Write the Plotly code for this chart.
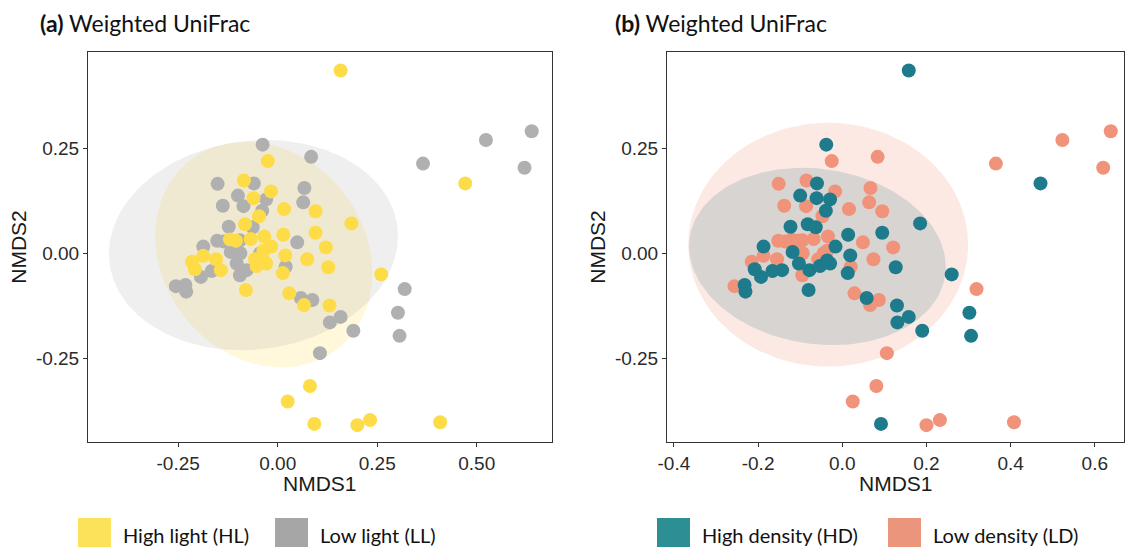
import numpy as np
import plotly.graph_objects as go

# ---------------- data ----------------
nmds1 = [0.158, 0.638, 0.523, 0.620, 0.365, 0.471, -0.038, -0.025, 0.084, -0.151,
         -0.085, -0.060, -0.017, 0.067, 0.064, -0.100, -0.061, -0.029, -0.086, -0.138,
         0.016, 0.095, -0.039, -0.047, -0.082, -0.123, -0.063, 0.095, 0.014, 0.185,
         -0.034, -0.152, -0.120, -0.095, -0.068, 0.049, 0.121, -0.016, -0.187, -0.036,
         -0.118, -0.044, 0.019, 0.074, -0.187, -0.155, -0.215, -0.057, -0.036, -0.103,
         0.127, 0.020, 0.013, -0.166, -0.193, -0.208, -0.095, -0.078, -0.143, -0.256,
         -0.232, -0.230, -0.080, 0.029, 0.058, 0.087, 0.066, 0.130, 0.131, 0.158,
         0.190, 0.260, 0.319, 0.302, 0.306, 0.106, 0.081, 0.025, 0.092, 0.200,
         0.232, 0.408, -0.053, -0.029, -0.136, -0.105, -0.094]
nmds2 = [0.434, 0.290, 0.269, 0.203, 0.213, 0.166, 0.258, 0.219, 0.229, 0.165,
         0.173, 0.166, 0.147, 0.155, 0.121, 0.137, 0.131, 0.128, 0.112, 0.113,
         0.105, 0.100, 0.101, 0.088, 0.069, 0.063, 0.062, 0.049, 0.044, 0.071,
         0.040, 0.030, 0.033, 0.031, 0.034, 0.026, 0.014, 0.016, 0.016, 0.006,
         0.003, 0.000, -0.005, -0.014, -0.006, -0.014, -0.020, -0.014, -0.017, -0.024,
         -0.033, -0.032, -0.047, -0.042, -0.056, -0.038, -0.052, -0.040, -0.040, -0.078,
         -0.075, -0.091, -0.087, -0.095, -0.106, -0.111, -0.123, -0.124, -0.164, -0.151,
         -0.184, -0.050, -0.085, -0.141, -0.196, -0.237, -0.315, -0.352, -0.405, -0.408,
         -0.396, -0.401, -0.030, -0.024, 0.028, 0.030, 0.000]
light = ["HL", "LL", "LL", "LL", "LL", "HL", "LL", "HL", "LL", "LL",
         "HL", "LL", "HL", "LL", "LL", "LL", "HL", "LL", "LL", "LL",
         "HL", "HL", "LL", "HL", "HL", "LL", "LL", "HL", "HL", "HL",
         "HL", "LL", "HL", "LL", "HL", "LL", "HL", "HL", "LL", "HL",
         "LL", "LL", "HL", "HL", "HL", "HL", "HL", "HL", "HL", "LL",
         "HL", "LL", "HL", "LL", "LL", "HL", "LL", "LL", "HL", "LL",
         "LL", "LL", "HL", "HL", "LL", "LL", "HL", "HL", "LL", "LL",
         "LL", "HL", "LL", "LL", "LL", "LL", "HL", "HL", "HL", "HL",
         "HL", "HL", "HL", "HL", "LL", "HL", "LL"]
density = ["HD", "LD", "LD", "LD", "LD", "HD", "HD", "LD", "LD", "LD",
           "LD", "HD", "LD", "LD", "LD", "HD", "HD", "HD", "LD", "LD",
           "LD", "LD", "HD", "LD", "HD", "HD", "HD", "HD", "HD", "HD",
           "LD", "LD", "LD", "LD", "LD", "LD", "LD", "HD", "HD", "LD",
           "HD", "LD", "HD", "LD", "LD", "LD", "LD", "LD", "HD", "HD",
           "HD", "LD", "HD", "HD", "HD", "HD", "LD", "HD", "HD", "LD",
           "HD", "HD", "HD", "LD", "HD", "LD", "LD", "HD", "HD", "HD",
           "HD", "HD", "LD", "HD", "HD", "LD", "LD", "LD", "HD", "LD",
           "LD", "LD", "HD", "HD", "LD", "LD", "LD"]

# 95% ellipses: centre and spread (var x, var y, cov)
ell_groups = ["HL", "LL", "HD", "LD"]
ell_cx = [-0.035, -0.061, -0.059, -0.0335]
ell_cy = [-0.003, 0.0195, -0.0075, 0.0205]
ell_sxx = [0.0745, 0.1318, 0.0930, 0.1106]
ell_syy = [0.0718, 0.0623, 0.0443, 0.0838]
ell_sxy = [-0.012, 0.0075, -0.0075, 0.0]

x_ticks_a = [-0.25, 0.0, 0.25, 0.50]
x_ticklabels_a = ["-0.25", "0.00", "0.25", "0.50"]
x_ticks_b = [-0.4, -0.2, 0.0, 0.2, 0.4, 0.6]
x_ticklabels_b = ["-0.4", "-0.2", "0.0", "0.2", "0.4", "0.6"]
y_ticks = [-0.25, 0.0, 0.25]
y_ticklabels = ["-0.25", "0.00", "0.25"]

group_names = {"HL": "High light (HL)", "LL": "Low light (LL)",
               "HD": "High density (HD)", "LD": "Low density (LD)"}
point_col = {"HL": "#FDDC48", "LL": "#B0B0B0", "HD": "#1D7B8C", "LD": "#F0937A"}
legend_col = {"HL": "#FBE25A", "LL": "#A6A6A6", "HD": "#2C8F94", "LD": "#EA957C"}
fill_rgb = {"HL": (253, 220, 72), "LL": (175, 175, 175),
            "HD": (29, 123, 140), "LD": (240, 147, 122)}

W, H = 1126, 547

def ellipse(i, n=200):
    t = np.linspace(0, 2 * np.pi, n)
    sx = np.sqrt(ell_sxx[i])
    r = ell_sxy[i] / sx
    q = np.sqrt(ell_syy[i] - r * r)
    return ell_cx[i] + sx * np.cos(t), ell_cy[i] + r * np.cos(t) + q * np.sin(t)

fig = go.Figure()

def add_ellipse(g, xa, ya):
    i = ell_groups.index(g)
    ex, ey = ellipse(i)
    r, gg, b = fill_rgb[g]
    fig.add_trace(go.Scatter(x=ex, y=ey, mode="lines", fill="toself",
                             fillcolor=f"rgba({r},{gg},{b},0.2)",
                             line=dict(width=0), hoverinfo="skip",
                             showlegend=False, xaxis=xa, yaxis=ya))

def add_points(labels, g, xa, ya):
    xs = [x for x, l in zip(nmds1, labels) if l == g]
    ys = [y for y, l in zip(nmds2, labels) if l == g]
    fig.add_trace(go.Scatter(x=xs, y=ys, mode="markers", name=group_names[g],
                             marker=dict(size=14, color=point_col[g], line=dict(width=0)),
                             showlegend=False, xaxis=xa, yaxis=ya))

# panel (a)
add_ellipse("HL", "x", "y")
add_ellipse("LL", "x", "y")
add_points(light, "LL", "x", "y")
add_points(light, "HL", "x", "y")
# panel (b)
add_ellipse("HD", "x2", "y2")
add_ellipse("LD", "x2", "y2")
add_points(density, "LD", "x2", "y2")
add_points(density, "HD", "x2", "y2")

def px_x(p):
    return p / W

def px_y(p):
    return 1 - p / H

axis_common = dict(showgrid=False, zeroline=False, showline=True, linecolor="#333333",
                   linewidth=1, mirror=True, ticks="outside", ticklen=4, automargin=False,
                   tickcolor="#333333", tickfont=dict(family="Liberation Sans", size=19, color="#2b2b2b"))
title_font = dict(family="Liberation Sans", size=21, color="#1a1a1a")

fig.update_layout(
    width=W, height=H, margin=dict(l=0, r=0, t=0, b=0),
    paper_bgcolor="white", plot_bgcolor="white", showlegend=False,
    xaxis=dict(domain=[px_x(88), px_x(552)], range=[-0.4766, 0.689],
               tickvals=x_ticks_a, ticktext=x_ticklabels_a, anchor="y", **axis_common),
    yaxis=dict(domain=[px_y(442), px_y(52)], range=[-0.448, 0.478],
               tickvals=y_ticks, ticktext=y_ticklabels,
               title=dict(text="NMDS2", font=title_font, standoff=3), anchor="x", **axis_common),
    xaxis2=dict(domain=[px_x(667), px_x(1124)], range=[-0.4164, 0.6694],
                tickvals=x_ticks_b, ticktext=x_ticklabels_b, anchor="y2", **axis_common),
    yaxis2=dict(domain=[px_y(442), px_y(52)], range=[-0.448, 0.478],
                tickvals=y_ticks, ticktext=y_ticklabels,
                title=dict(text="NMDS2", font=title_font, standoff=3), anchor="x2", **axis_common),
)

# x-axis titles
for x0, x1 in [(88, 552), (667, 1124)]:
    fig.add_annotation(x=px_x((x0 + x1) / 2), y=px_y(483), xref="paper", yref="paper",
                       xanchor="center", yanchor="middle", showarrow=False,
                       text="NMDS1", font=title_font)

title_lab_font = dict(family="Lato", size=23, color="#111111")
lab_font = dict(family="Lato", size=20, color="#111111")
# panel titles
for x0, letter in [(38, "a"), (613, "b")]:
    fig.add_annotation(x=px_x(x0), y=px_y(23), xref="paper", yref="paper",
                       xanchor="left", yanchor="middle", showarrow=False,
                       text=f"<b>({letter})</b> Weighted UniFrac", font=title_lab_font)

# legend keys
legend_items = [("HL", 78, 121), ("LL", 275, 318), ("HD", 657, 700), ("LD", 888, 931)]
for g, sx, tx in legend_items:
    fig.add_shape(type="rect", xref="paper", yref="paper",
                  x0=px_x(sx), x1=px_x(sx + 33), y0=px_y(550), y1=px_y(518),
                  fillcolor=legend_col[g], line=dict(width=0))
    fig.add_annotation(x=px_x(tx), y=px_y(535), xref="paper", yref="paper",
                       xanchor="left", yanchor="middle", showarrow=False,
                       text=group_names[g], font=lab_font)

fig.write_html("out.html")
